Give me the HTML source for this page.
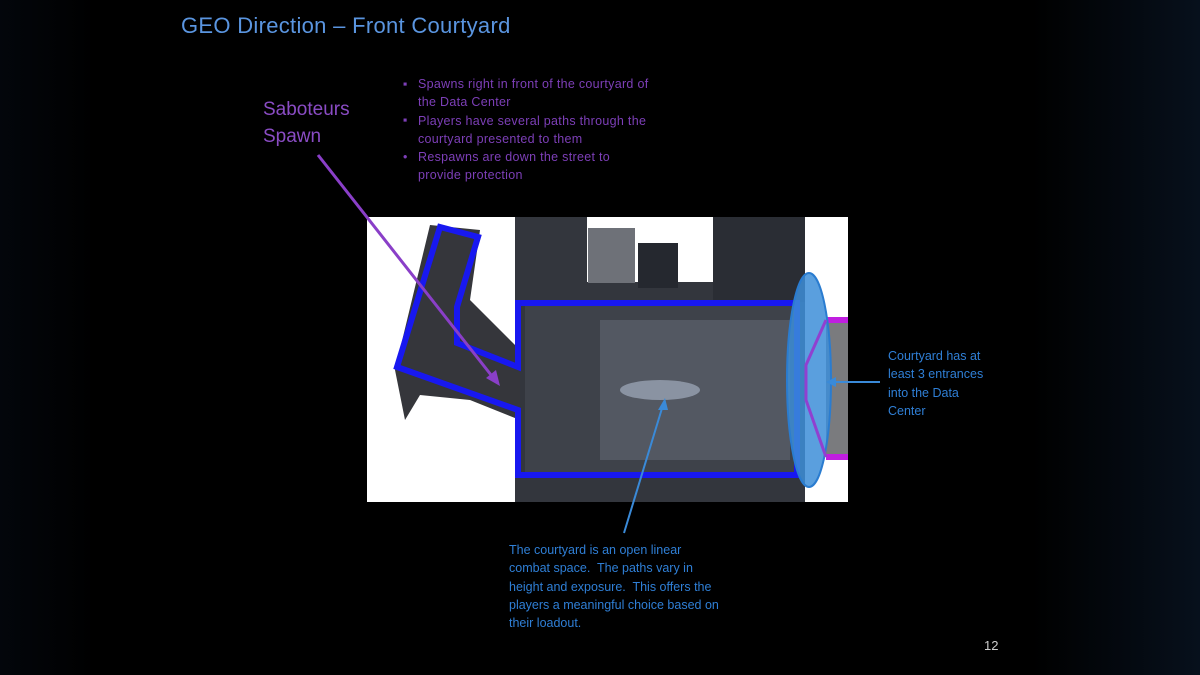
<!DOCTYPE html>
<html><head><meta charset="utf-8"><style>
body{margin:0;width:1200px;height:675px;overflow:hidden;background:#000;font-family:"Liberation Sans",sans-serif;}
.bg{position:absolute;left:0;top:0;width:1200px;height:675px;background:linear-gradient(90deg,#03060b 0%,#000 8%,#000 86%,#07101c 100%);}
.t{position:absolute;white-space:nowrap;}
</style></head><body>
<div class="bg"></div>
<div class="t" style="left:181px;top:13px;font-size:22px;color:#5a95e0;letter-spacing:0.3px;">GEO Direction – Front Courtyard</div>
<div class="t" style="left:263px;top:96px;font-size:19px;line-height:27px;color:#8a4cc4;">Saboteurs<br>Spawn</div>
<div class="t" style="left:403px;top:75px;font-size:12.5px;line-height:18.3px;color:#7d3fb8;letter-spacing:0.3px;">
<span style="position:absolute;left:0;top:0">▪</span><span style="position:absolute;left:0;top:36px">▪</span><span style="position:absolute;left:0;top:73px">•</span>
<div style="margin-left:15px">Spawns right in front of the courtyard of<br>the Data Center<br>Players have several paths through the<br>courtyard presented to them<br>Respawns are down the street to<br>provide protection</div></div>
<div class="t" style="left:888px;top:347px;font-size:12.5px;line-height:18.3px;color:#2f7fd6;">Courtyard has at<br>least 3 entrances<br>into the Data<br>Center</div>
<div class="t" style="left:509px;top:541px;font-size:12.5px;line-height:18.3px;color:#2f7fd6;">The courtyard is an open linear<br>combat space.&nbsp; The paths vary in<br>height and exposure.&nbsp; This offers the<br>players a meaningful choice based on<br>their loadout.</div>
<div class="t" style="left:984px;top:638px;font-size:13px;color:#ccc;">12</div>
<svg width="1200" height="675" style="position:absolute;left:0;top:0">
<rect x="367" y="217" width="481" height="285" fill="#fff"/>
<rect x="515" y="217" width="290" height="285" fill="#33363d"/>
<rect x="587" y="217" width="126" height="65" fill="#fff"/>
<rect x="588" y="228" width="47" height="55" fill="#6e7178"/>
<rect x="638" y="243" width="40" height="45" fill="#25282f"/>
<rect x="713" y="217" width="92" height="85" fill="#2a2d34"/>
<rect x="805" y="217" width="43" height="100" fill="#fff"/>
<rect x="826" y="320" width="22" height="137" fill="#7a7b7e"/>
<polygon points="430,225 480,230 470,300 520,350 520,420 470,400 420,395 405,420 395,370" fill="#35363b"/>
<rect x="525" y="305" width="270" height="168" fill="#3e424a"/>
<rect x="600" y="320" width="190" height="140" fill="#535862"/>
<ellipse cx="660" cy="390" rx="40" ry="10" fill="#8a93a2"/>
<polygon points="440,227 478,237 457,307 457,343 518,367 518,303 797,303 797,475 518,475 518,410 397,367" fill="none" stroke="#1818f0" stroke-width="6"/>
<line x1="826" y1="320" x2="848" y2="320" stroke="#c01ee0" stroke-width="6"/>
<line x1="826" y1="457" x2="848" y2="457" stroke="#c01ee0" stroke-width="6"/>
<ellipse cx="809" cy="380" rx="22" ry="107" fill="#3d8ed8" fill-opacity="0.85" stroke="#2a7cd0" stroke-width="2"/>
<polyline points="826,320 806,365 806,400 826,457" fill="none" stroke="#9040d0" stroke-width="3"/>
<line x1="318" y1="155" x2="495" y2="380" stroke="#8a3fc8" stroke-width="3"/>
<polygon points="500,386 486,378 496,370" fill="#8a3fc8"/>
<line x1="624" y1="533" x2="663" y2="405" stroke="#3a8ad8" stroke-width="2"/>
<polygon points="665,398 658,410 668,410" fill="#3a8ad8"/>
<line x1="880" y1="382" x2="832" y2="382" stroke="#3a8ad8" stroke-width="2"/>
<polygon points="826,382 836,377 836,387" fill="#3a8ad8"/>
</svg>
</body></html>
